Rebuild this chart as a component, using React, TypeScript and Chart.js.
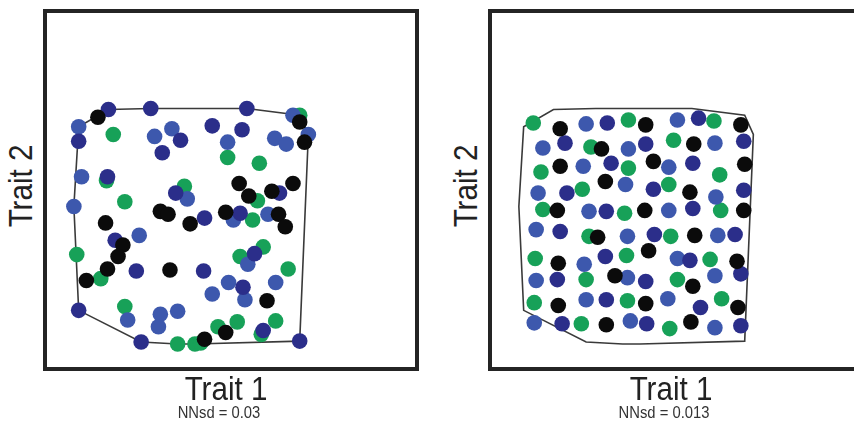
import React, { useEffect, useRef } from "react";
import { Chart, registerables } from "chart.js";

Chart.register(...registerables);

type P = [number, number];

// Trait values (Trait 1, Trait 2) on a 0–100 scale.
// Left panel: clustered community (NNsd = 0.03)
const leftGreen: P[] = [
  [64.75, 64.5], [16.25, 59.5], [46, 53.5], [54.25, 52], [14.5, 47.5], [19.25, 42],
  [34.75, 46], [53.75, 42.25], [52.5, 37.25], [6.75, 28.25], [13, 22], [49.25, 27.75],
  [55.25, 30.25], [61.75, 24.5], [19.25, 14.75], [43.5, 9.5], [48.5, 10.75], [58.5, 11],
  [54.75, 7.5], [33, 5], [37.5, 5], [39, 5.25],
];
const leftBlue: P[] = [
  [63, 64.5], [7.25, 61.5], [27, 59], [31.5, 61], [46, 57.5], [58.25, 58.5],
  [61.25, 57], [67, 59.5], [8, 48.5], [35.5, 42.75], [6, 40.75], [47.5, 37.25],
  [56.5, 38.75], [23, 33.25], [51.25, 25.75], [58.5, 21], [46.25, 21], [50.5, 16.5],
  [42, 18], [20, 11.25], [28.5, 12.75], [33, 13.5], [28, 9.5],
];
const leftDarkBlue: P[] = [
  [15, 66], [26, 66.25], [51, 66.25], [7.25, 57.75], [33.75, 58], [29, 54.75],
  [42, 61.75], [49.75, 60.75], [14.75, 48.5], [32.5, 44.25], [59.5, 44.25], [40, 37.75],
  [49.25, 39], [16.75, 32], [22.25, 24], [39.75, 24], [53, 28.5], [50, 19.75],
  [7.25, 13.75], [55.25, 8.5], [23.5, 5.5], [64.75, 5.75],
];
const leftBlack: P[] = [
  [12.25, 64], [64.75, 62.75], [66, 57.5], [49, 46.75], [63, 46.75], [51.5, 43.5],
  [57.5, 44.75], [28.5, 39.5], [30.5, 38.75], [14.25, 36.5], [36.25, 36.25], [45.5, 39.25],
  [59.25, 38.75], [61, 35.5], [18.75, 30.75], [17.5, 27.75], [14.75, 24.5], [9.25, 21.5],
  [31, 24.25], [56.25, 16.25], [45.5, 8], [40, 6.25],
];

// Right panel: evenly spaced community (NNsd = 0.013)
const rightGreen: P[] = [
  [9.75, 62.5], [34.5, 63.25], [56.75, 63], [24.75, 56.25], [46.25, 58], [11.75, 49.75],
  [34.5, 50.75], [58.25, 49], [22.5, 45.25], [45, 46.5], [12.25, 40], [33.5, 39],
  [58.5, 39.75], [24.25, 33], [45.5, 33], [10.25, 27.25], [34, 28], [55.75, 27],
  [23.5, 21.75], [47.25, 21.75], [10, 15.75], [34.25, 16.25], [58.75, 16.75], [22.25, 10.25],
  [45.25, 9],
];
const rightBlue: P[] = [
  [23.5, 62.25], [47.25, 63.25], [12.25, 56], [34.5, 55.75], [57, 57.25], [22.75, 51.25],
  [45, 51], [11, 44.25], [33.75, 46.5], [57.25, 43.25], [24.25, 39.5], [45, 39.75],
  [10.5, 34.75], [34.25, 33], [57.75, 33.25], [23, 25.75], [47.25, 27.25], [10.5, 21.5],
  [34.25, 22.25], [57, 22.75], [23.5, 16.5], [44.75, 16.75], [10, 10.5], [35, 11],
  [57, 9.25],
];
const rightDarkBlue: P[] = [
  [29, 62.5], [52.75, 63.75], [18, 57.25], [39, 57], [64.5, 57.75], [30, 52],
  [51.25, 52], [18.5, 44.25], [41, 45.25], [64.5, 45], [28.75, 39.5], [51.25, 40.25],
  [16.75, 34.25], [41.25, 33.5], [62.25, 33.5], [28.5, 27.75], [50.5, 26.75], [16, 21.75],
  [39, 21.25], [63.75, 23.25], [28.75, 16.5], [53.25, 14.5], [17.25, 10.25], [39.25, 10.25],
  [63.75, 9.75],
];
const rightBlack: P[] = [
  [16.75, 61], [39, 62], [63.75, 62], [27.5, 55.75], [51.5, 57], [16.75, 51.25],
  [41, 52.5], [64.75, 51.75], [28.5, 47.25], [50.5, 44.5], [16, 39.75], [38.75, 39.75],
  [64.5, 39.75], [26.5, 32.75], [51.75, 33.25], [16.25, 26], [39.75, 29.25], [62.75, 26.5],
  [31, 22.75], [51.25, 20], [16.25, 15], [39, 15.5], [63, 14.5], [28.75, 10],
  [50.75, 10.75],
];

const xLabel = "Trait 1";
const yLabel = "Trait 2";
const leftCaption = "NNsd = 0.03";
const rightCaption = "NNsd = 0.013";

const GREEN = "#17a158";
const BLUE = "#3d58ad";
const DARKBLUE = "#2b2e8a";
const BLACK = "#0b0b0b";

// Convex hull of the trait space (monotone chain), from the left community
function convexHull(pts: P[]): P[] {
  const p = [...pts].sort((a, b) => (a[0] === b[0] ? a[1] - b[1] : a[0] - b[0]));
  const cross = (o: P, a: P, b: P) => (a[0] - o[0]) * (b[1] - o[1]) - (a[1] - o[1]) * (b[0] - o[0]);
  const lower: P[] = [];
  for (const q of p) {
    while (lower.length >= 2 && cross(lower[lower.length - 2], lower[lower.length - 1], q) <= 0) lower.pop();
    lower.push(q);
  }
  const upper: P[] = [];
  for (let i = p.length - 1; i >= 0; i--) {
    const q = p[i];
    while (upper.length >= 2 && cross(upper[upper.length - 2], upper[upper.length - 1], q) <= 0) upper.pop();
    upper.push(q);
  }
  upper.pop();
  lower.pop();
  const h = lower.concat(upper);
  h.push(h[0]);
  return h;
}

const traitSpace = convexHull([...leftGreen, ...leftBlue, ...leftDarkBlue, ...leftBlack]);

const FONT = '"Liberation Sans", Arial, Helvetica, sans-serif';

type Group = { pts: P[]; color: string };

function Panel({ left, groups, caption }: { left: number; groups: Group[]; caption: string }) {
  const ref = useRef<HTMLCanvasElement | null>(null);
  useEffect(() => {
    if (!ref.current) return;
    const chart = new Chart(ref.current, {
      type: "scatter",
      data: {
        datasets: [
          {
            data: traitSpace.map(([x, y]) => ({ x, y })),
            showLine: true,
            borderColor: "#3a3a3a",
            borderWidth: 1.6,
            pointRadius: 0,
            tension: 0,
            order: 10,
            clip: false as any,
          } as any,
          ...groups.map((g, i) => ({
            data: g.pts.map(([x, y]) => ({ x, y })),
            pointBackgroundColor: g.color,
            backgroundColor: g.color,
            pointBorderWidth: 0,
            borderWidth: 0,
            pointRadius: 7.8,
            pointHoverRadius: 7.8,
            order: 5 - i,
            clip: false as any,
          })),
        ],
      },
      options: {
        animation: false,
        responsive: false,
        maintainAspectRatio: false,
        events: [],
        layout: { padding: 0 },
        plugins: { legend: { display: false }, tooltip: { enabled: false } },
        scales: {
          x: { type: "linear", min: 0, max: 100, display: false },
          y: { type: "linear", min: 0, max: 100, display: false },
        },
      },
    });
    return () => chart.destroy();
  }, []);

  const textBase: React.CSSProperties = {
    position: "absolute",
    whiteSpace: "nowrap",
    lineHeight: 1,
    fontFamily: FONT,
  };

  return (
    <>
      <div
        style={{
          position: "absolute",
          left,
          top: 9,
          width: 376,
          height: 362,
          border: "4px solid #242424",
          boxSizing: "border-box",
        }}
      />
      <canvas
        ref={ref}
        width={400}
        height={400}
        style={{ position: "absolute", left, top: -29, width: 400, height: 400 }}
      />
      <div
        style={{
          ...textBase,
          left: left - 23,
          top: 186,
          fontSize: 34,
          color: "#222",
          transform: "translate(-50%, -50%) rotate(-90deg) scaleX(0.87)",
        }}
      >
        {yLabel}
      </div>
      <div
        style={{
          ...textBase,
          left: left + 183,
          top: 388,
          fontSize: 34,
          color: "#222",
          transform: "translate(-50%, -50%) scaleX(0.87)",
        }}
      >
        {xLabel}
      </div>
      <div
        style={{
          ...textBase,
          left: left + 176,
          top: 412,
          fontSize: 17,
          color: "#333",
          transform: "translate(-50%, -50%) scaleX(0.87)",
        }}
      >
        {caption}
      </div>
    </>
  );
}

export default function App() {
  return (
    <div
      style={{
        position: "absolute",
        left: 0,
        top: 0,
        width: 854,
        height: 442,
        overflow: "hidden",
        background: "#fff",
      }}
    >
      <Panel
        left={43}
        caption={leftCaption}
        groups={[
          { pts: leftGreen, color: GREEN },
          { pts: leftBlue, color: BLUE },
          { pts: leftDarkBlue, color: DARKBLUE },
          { pts: leftBlack, color: BLACK },
        ]}
      />
      <Panel
        left={488}
        caption={rightCaption}
        groups={[
          { pts: rightGreen, color: GREEN },
          { pts: rightBlue, color: BLUE },
          { pts: rightDarkBlue, color: DARKBLUE },
          { pts: rightBlack, color: BLACK },
        ]}
      />
    </div>
  );
}
